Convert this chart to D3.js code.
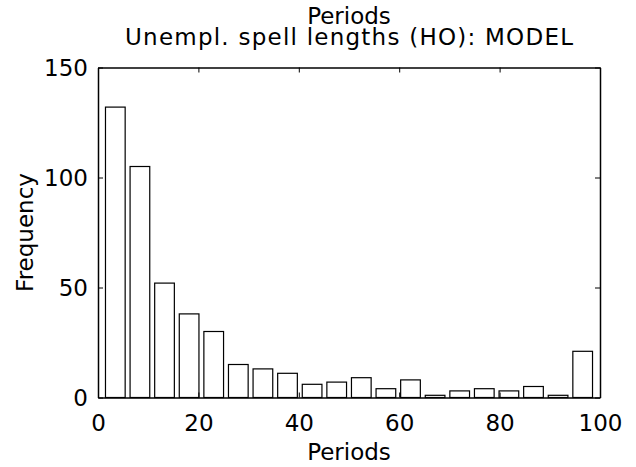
<!DOCTYPE html>
<html><head><meta charset="utf-8">
<script src="https://cdn.jsdelivr.net/npm/d3@7"></script>
<style>body{margin:0;background:#fff}svg{display:block}text{font-family:"DejaVu Sans",sans-serif;fill:#000}</style>
</head><body>
<script>
const binCenters = [3.45, 8.35, 13.25, 18.15, 23.05, 27.95, 32.85, 37.75, 42.65, 47.55, 52.45, 57.35, 62.25, 67.15, 72.05, 76.95, 81.85, 86.75, 91.65, 96.55];
const counts = [132, 105, 52, 38, 30, 15, 13, 11, 6, 7, 9, 4, 8, 1, 3, 4, 3, 5, 1, 21];
const xTicks = [0, 20, 40, 60, 80, 100];
const yTicks = [0, 50, 100, 150];
const binWidth = 4.9;
const titleLines = ["Periods", "Unempl. spell lengths (HO): MODEL"];
const xLabel = "Periods", yLabel = "Frequency";

const W = 636, H = 467;
const m = {l: 98, r: 36, t: 67.5, b: 69.5};
const FF = "DejaVu Sans, sans-serif";
const svg = d3.select("body").append("svg").attr("width", W).attr("height", H);
const x = d3.scaleLinear().domain([0, 100]).range([m.l, W - m.r]);
const y = d3.scaleLinear().domain([0, 150]).range([H - m.b, m.t]);
const fs = 23;

svg.append("g").selectAll("rect").data(counts).join("rect")
  .attr("x", (d, i) => x(binCenters[i] - binWidth * 0.4))
  .attr("width", (d, i) => x(binCenters[i] + binWidth * 0.4) - x(binCenters[i] - binWidth * 0.4))
  .attr("y", d => y(d))
  .attr("height", d => y(0) - y(d))
  .attr("fill", "#fff").attr("stroke", "#000").attr("stroke-width", 1.2);

const tl = 5;
const axB = svg.append("g").attr("transform", `translate(0,${y(0)})`)
  .call(d3.axisBottom(x).tickValues(xTicks).tickSizeInner(-tl).tickSizeOuter(0).tickPadding(17));
const axT = svg.append("g").attr("transform", `translate(0,${y(150)})`)
  .call(d3.axisTop(x).tickValues(xTicks).tickSizeInner(-tl).tickSizeOuter(0).tickFormat(""));
const axL = svg.append("g").attr("transform", `translate(${x(0)},0)`)
  .call(d3.axisLeft(y).tickValues(yTicks).tickSizeInner(-tl).tickSizeOuter(0).tickPadding(10));
const axR = svg.append("g").attr("transform", `translate(${x(100)},0)`)
  .call(d3.axisRight(y).tickValues(yTicks).tickSizeInner(-tl).tickSizeOuter(0).tickFormat(""));
[axB, axT, axL, axR].forEach(g => {
  g.select(".domain").attr("stroke", "#000").attr("stroke-width", 1.5);
  g.selectAll(".tick line").attr("stroke", "#000").attr("stroke-width", 1);
  g.selectAll("text").attr("font-size", fs).attr("font-family", FF).attr("fill", "#000");
});
axL.selectAll("text").attr("dy", "0.36em");

svg.append("text").attr("x", (x(0) + x(100)) / 2).attr("y", 460)
  .attr("text-anchor", "middle").attr("font-size", fs).text(xLabel);
svg.append("text").attr("transform", `translate(33,${(y(0) + y(150)) / 2}) rotate(-90)`)
  .attr("text-anchor", "middle").attr("font-size", fs).text(yLabel);
svg.append("g").selectAll("text").data(titleLines).join("text")
  .attr("x", (x(0) + x(100)) / 2).attr("y", (d, i) => 24 + i * 21)
  .attr("text-anchor", "middle").attr("font-size", fs)
  .each(function(d, i) { if (i === 1) d3.select(this).attr("textLength", 448).attr("lengthAdjust", "spacing"); })
  .text(d => d);
</script>
</body></html>
